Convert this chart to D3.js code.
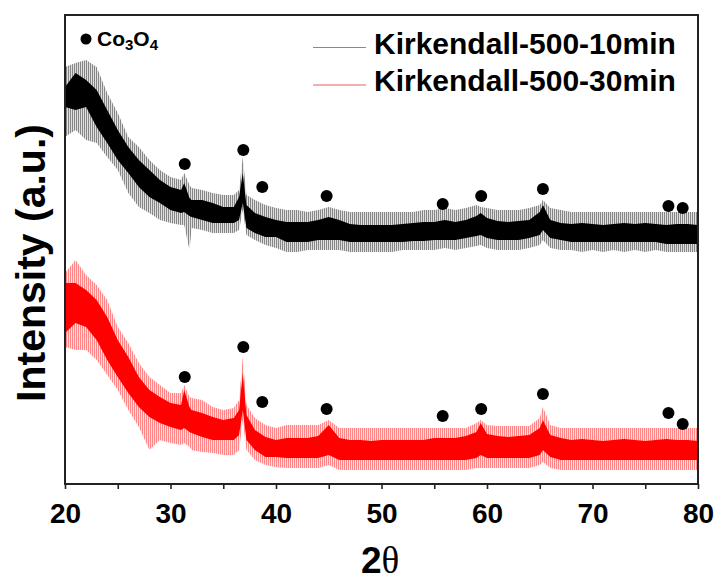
<!DOCTYPE html>
<html>
<head>
<meta charset="utf-8">
<script src="https://cdn.jsdelivr.net/npm/d3@7"></script>
<style>
  html, body { margin: 0; padding: 0; background: #fff; }
  svg { display: block; font-family: "Liberation Sans", Arial, sans-serif; }
</style>
</head>
<body>
<svg id="chart" width="717" height="581"></svg>
<script>
// 2-theta sample positions (degrees)
const angles = [20,21,22,23,24,25,26,27,28,29,30,31,31.3,31.8,32,33,34,35,36,36.5,36.85,37.2,38,39,40,41,42,43,44,45,46,47,48,49,50,51,52,53,54,55,56,57,58,59,59.4,60,61,62,63,64,65,65.3,66,67,68,69,70,71,72,73,74,75,76,77,78,79,80];

// Kirkendall-500-10min (black): dense band and noise-spike envelope (a.u.)
const k10CoreHi = [397,411,404,394,374,354,337,324,314,304,297,294,301,286,284,284,281,277,277,287,311,279,271,267,264,262,262,262,264,267,264,260,259,259,259,259,260,261,262,262,264,262,264,268,271,266,263,262,263,264,272,279,264,261,260,261,260,259,260,261,260,261,260,259,260,260,259];
const k10CoreLo = [377,374,377,357,341,324,311,297,287,281,274,271,272,268,267,264,261,261,261,264,281,256,251,247,247,242,242,242,244,244,244,242,242,242,242,242,242,243,243,244,244,244,246,248,249,246,244,244,244,246,249,254,246,244,242,242,242,242,242,242,242,242,242,240,240,240,240];
const k10SpikeHi = [417,421,424,417,391,371,347,337,324,314,307,304,311,299,296,294,291,289,289,294,327,289,284,279,276,274,274,272,274,277,274,272,272,272,272,272,272,272,274,274,276,274,276,279,277,276,274,274,274,276,279,284,276,274,272,272,272,272,272,272,272,272,272,272,272,272,272];
const k10SpikeLo = [347,354,344,341,327,314,291,277,271,264,261,259,259,234,256,254,251,251,251,254,274,249,244,239,236,232,232,234,234,234,234,232,232,232,232,232,234,234,234,234,236,234,236,238,239,236,234,234,234,236,239,244,236,234,234,232,234,232,234,232,234,232,234,232,232,232,232];

// Kirkendall-500-30min (red)
const k30CoreHi = [201,201,194,184,167,144,127,107,94,87,81,79,94,77,74,71,67,64,66,74,111,69,54,47,44,46,46,46,48,59,46,44,44,43,44,44,44,44,44,46,46,46,48,52,61,50,48,47,48,49,56,64,49,46,44,45,44,43,44,45,44,43,44,45,44,44,43];
const k30CoreLo = [151,161,157,144,124,107,91,77,67,61,57,54,56,52,51,47,44,44,44,49,74,44,34,27,27,26,26,26,26,29,24,24,24,24,24,24,24,24,24,24,24,24,24,26,29,26,26,26,26,26,29,34,27,24,24,24,24,24,24,24,24,24,24,24,24,24,24];
const k30SpikeHi = [211,224,209,199,184,157,141,121,107,99,91,91,99,87,86,84,77,74,76,84,127,79,66,59,56,59,59,59,59,64,56,56,56,56,56,56,56,56,56,56,56,56,56,61,64,59,58,58,58,58,66,77,59,56,56,56,56,56,56,56,56,56,56,56,56,56,56];
const k30SpikeLo = [137,134,134,124,109,94,74,57,34,44,41,39,41,37,34,32,31,29,29,34,64,34,24,19,17,16,16,16,16,19,14,14,14,14,14,14,14,14,14,14,14,14,14,16,16,16,16,16,16,16,19,22,16,14,14,14,14,14,14,14,14,14,14,14,14,14,14];

// Co3O4 reflection markers
const markerAngles = [31.35,36.9,38.7,44.8,55.8,59.45,65.3,77.2,78.55];
const markerK10 = [320,334,297,288,280,288,295,278,276];
const markerK30 = [107,137,82,75,68,75,90,71,60];

const seriesNames = ["Kirkendall-500-10min","Kirkendall-500-30min"];
const xTicks = [20,25,30,35,40,45,50,55,60,65,70,75,80];

const svg = d3.select("#chart");
const x = d3.scaleLinear().domain([20,80]).range([65,698]);
const y = d3.scaleLinear().domain([0,469]).range([484,15]);

// hairline hatching to give the noisy bands their texture
const defs = svg.append("defs");
[["hatchK","#000"],["hatchR","#ff0000"]].forEach(([id,c])=>{
  const p = defs.append("pattern").attr("id",id).attr("patternUnits","userSpaceOnUse")
    .attr("width",2).attr("height",9);
  p.append("rect").attr("width",2).attr("height",9).attr("fill",c).attr("fill-opacity",0.12);
  p.append("rect").attr("x",0).attr("y",0).attr("width",1).attr("height",9).attr("fill",c).attr("fill-opacity",0.4);
});

function band(hi, lo) {
  const rows = angles.map((a,i)=>({a, hi: hi[i], lo: lo[i]}));
  return d3.area().x(d=>x(d.a)).y0(d=>y(d.lo)).y1(d=>y(d.hi))(rows);
}

const plot = svg.append("g");
// black series
plot.append("path").attr("d", band(k10SpikeHi, k10SpikeLo)).attr("fill","url(#hatchK)");
plot.append("path").attr("d", band(k10CoreHi, k10CoreLo)).attr("fill","#000");
// red series
plot.append("path").attr("d", band(k30SpikeHi, k30SpikeLo)).attr("fill","url(#hatchR)");
plot.append("path").attr("d", band(k30CoreHi, k30CoreLo)).attr("fill","#ff0000");

// markers
plot.selectAll("circle.m10").data(markerAngles).join("circle")
  .attr("class","m10").attr("cx",d=>x(d)).attr("cy",(d,i)=>y(markerK10[i])).attr("r",6).attr("fill","#000");
plot.selectAll("circle.m30").data(markerAngles).join("circle")
  .attr("class","m30").attr("cx",d=>x(d)).attr("cy",(d,i)=>y(markerK30[i])).attr("r",6).attr("fill","#000");

// x axis
const xAxis = d3.axisBottom(x).tickValues(xTicks).tickSize(5).tickPadding(14)
  .tickFormat(d => d % 10 === 0 ? d : "");
const gx = svg.append("g").attr("transform","translate(0,484)").call(xAxis);
gx.select(".domain").remove();
gx.selectAll(".tick line").attr("stroke","#222").attr("stroke-width",1.6);
gx.selectAll(".tick text").attr("font-size",28).attr("font-weight","bold").attr("fill","#000")
  .attr("font-family","'Liberation Sans', Arial, sans-serif");

// frame
svg.append("rect").attr("x",65).attr("y",15).attr("width",633).attr("height",469)
  .attr("fill","none").attr("stroke","#222").attr("stroke-width",2);

// axis titles
const xt = svg.append("text").attr("x",361).attr("y",573).attr("font-size",37).attr("font-weight","bold").attr("fill","#000");
xt.append("tspan").text("2");
xt.append("tspan").attr("font-family","'Liberation Serif', 'Times New Roman', serif").attr("font-weight","normal").text("θ");

svg.append("text").attr("transform","translate(45,263) rotate(-90)").attr("text-anchor","middle")
  .attr("font-size",41).attr("font-weight","bold").attr("fill","#000").text("Intensity (a.u.)");

// Co3O4 label
svg.append("circle").attr("cx",86).attr("cy",39).attr("r",5.5).attr("fill","#000");
const co = svg.append("text").attr("x",97).attr("y",46).attr("font-size",21).attr("font-weight","bold").attr("fill","#000");
co.append("tspan").text("Co");
co.append("tspan").attr("font-size",15).attr("dy",4).text("3");
co.append("tspan").attr("dy",-4).text("O");
co.append("tspan").attr("font-size",15).attr("dy",4).text("4");

// series legend
const legColors = ["#8a8a8a","#e06060"];
const legY = [47.5, 85];
seriesNames.forEach((name,i)=>{
  svg.append("line").attr("x1",313).attr("x2",366).attr("y1",legY[i]).attr("y2",legY[i])
    .attr("stroke",legColors[i]).attr("stroke-width",1);
  svg.append("text").attr("x",374).attr("y",legY[i]+6).attr("font-size",30).attr("font-weight","bold")
    .attr("fill","#000").text(name);
});
</script>
</body>
</html>
